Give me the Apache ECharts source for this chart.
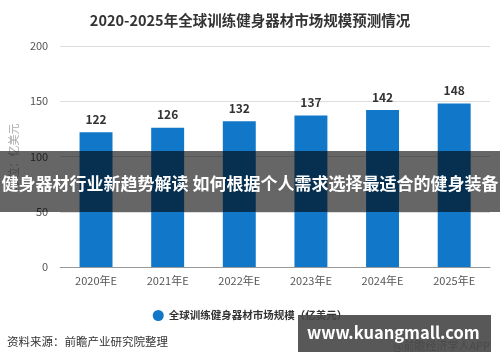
<!DOCTYPE html>
<html><head><meta charset="utf-8">
<script src="https://cdn.jsdelivr.net/npm/echarts@6/dist/echarts.min.js"></script>
<style>html,body{margin:0;padding:0;background:#fff}#c{width:500px;height:362px}</style>
</head><body><div id="c"></div>
<script>
var categories = ['2020年E','2021年E','2022年E','2023年E','2024年E','2025年E'];
var values = [122, 126, 132, 137, 142, 148];
var yTicks = [0, 50, 100, 150, 200];
var seriesName = '全球训练健身器材市场规模（亿美元）';
var titleText = '2020-2025年全球训练健身器材市场规模预测情况';
var bannerText = '健身器材行业新趋势解读 如何根据个人需求选择最适合的健身装备';
var sourceText = '资料来源：前瞻产业研究院整理';
var siteText = 'www.kuangmall.com';
var appText = '@前瞻经济学人APP';
var F = '"Noto Sans CJK SC", "Noto Sans", sans-serif';
var chart = echarts.init(document.getElementById('c'));
chart.setOption({
  animation: false,
  textStyle: {fontFamily: F},
  title: {text: titleText, left: 'center', top: 8, textStyle: {fontSize: 14.5, fontWeight: 'bold', color: '#333', fontFamily: F}},
  grid: {left: 59, right: 10, top: 46, bottom: 95},
  legend: {data: [seriesName], bottom: 36, left: 'center', icon: 'circle', itemWidth: 11, itemHeight: 11,
    textStyle: {fontSize: 10.5, color: '#333', fontWeight: 'bold', fontFamily: F}},
  xAxis: {type: 'category', data: categories,
    axisLine: {lineStyle: {color: '#999'}},
    axisTick: {alignWithLabel: true, lineStyle: {color: '#999'}},
    axisLabel: {color: '#555', fontSize: 11, margin: 8}},
  yAxis: {type: 'value', min: yTicks[0], max: yTicks[yTicks.length-1], interval: 50,
    name: '单位：亿美元', nameLocation: 'middle', nameRotate: 90, nameGap: 33,
    nameTextStyle: {color: '#aaa', fontSize: 11},
    axisLine: {show: false}, axisTick: {show: false},
    axisLabel: {color: '#555', fontSize: 11, margin: 12},
    splitLine: {lineStyle: {color: '#ddd'}}},
  series: [{name: seriesName, type: 'bar', data: values, barWidth: '46%',
    itemStyle: {color: '#1177c8'},
    label: {show: true, position: 'top', distance: 7, color: '#333', fontSize: 12, fontWeight: 'bold'}}],
  graphic: [
    {type: 'text', right: 10, top: 340, z: 50, style: {text: appText, fill: '#666', font: '11px ' + F}},
    {type: 'rect', left: 0, top: 151, z: 100, shape: {width: 500, height: 61}, style: {fill: 'rgba(0,0,0,0.6)'}},
    {type: 'text', left: 'center', top: 175, z: 101, style: {text: bannerText, fill: '#fff', font: 'bold 17px ' + F}},
    {type: 'text', left: 7, top: 336, z: 50, style: {text: sourceText, fill: '#333', font: '11.5px ' + F}},
    {type: 'rect', left: 298, top: 315, z: 100, shape: {width: 193, height: 37}, style: {fill: 'rgba(70,70,70,0.9)'}},
    {type: 'text', left: 307, top: 324, z: 101, style: {text: siteText, fill: '#fff', font: 'bold 16.5px ' + F}}
  ]
});
</script></body></html>
